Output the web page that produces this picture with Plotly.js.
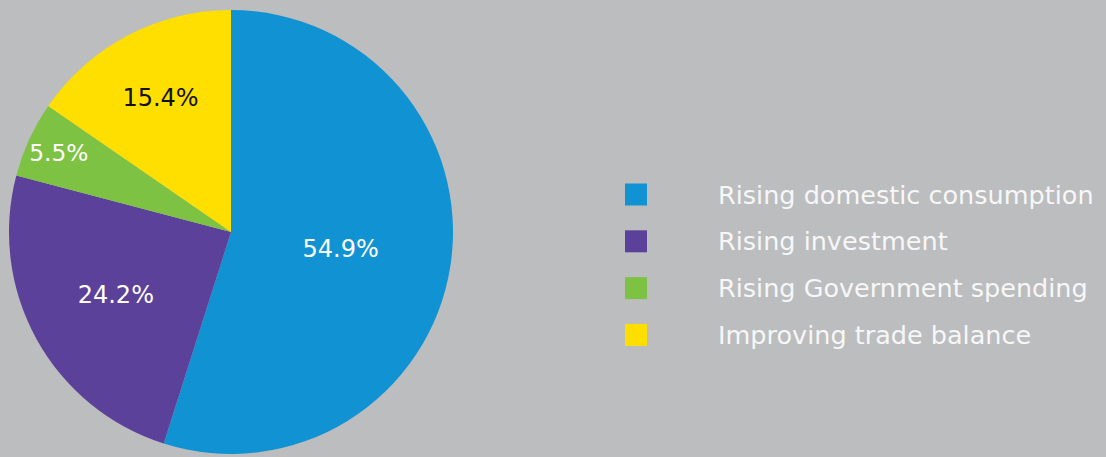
<!DOCTYPE html>
<html>
<head>
<meta charset="utf-8">
<script src="https://cdn.plot.ly/plotly-3.0.1.min.js"></script>
<style>html,body{margin:0;padding:0;background:#bcbdbf;}#chart{width:1106px;height:457px;}</style>
</head>
<body>
<div id="chart"></div>
<script>
const labels = ["Rising domestic consumption", "Rising investment", "Rising Government spending", "Improving trade balance"];
const values = [54.9, 24.2, 5.5, 15.4];
const colors = ["#1193d3", "#5b4199", "#7dc243", "#ffdf00"];
const textColors = ["#ffffff", "#ffffff", "#ffffff", "#111111"];

const W = 1106, H = 457;
const FONT = "'DejaVu Sans', sans-serif";

const trace = {
  type: "pie",
  labels: labels,
  values: values,
  marker: {colors: colors, line: {width: 0}},
  sort: false,
  direction: "clockwise",
  rotation: 0,
  texttemplate: "%{value:.1f}%",
  textinfo: "text",
  textposition: "inside",
  insidetextorientation: "horizontal",
  insidetextfont: {family: FONT, size: 24, color: textColors},
  hoverinfo: "label+value",
  showlegend: false,
  domain: {x: [9 / W, 453 / W], y: [1 - 454 / H, 1 - 10 / H]}
};

const shapes = [], annotations = [];
const rowY0 = 194.5, rowStep = 46.8;
labels.forEach((lab, i) => {
  const cy = rowY0 + i * rowStep;
  shapes.push({
    type: "rect", xref: "paper", yref: "paper",
    x0: 625 / W, x1: 647 / W,
    y0: 1 - (cy + 11) / H, y1: 1 - (cy - 11) / H,
    fillcolor: colors[i], line: {width: 0}
  });
  annotations.push({
    xref: "paper", yref: "paper",
    x: 716 / W, y: 1 - cy / H,
    xanchor: "left", yanchor: "middle",
    text: lab, showarrow: false,
    font: {family: FONT, size: 25.5, color: "#f7f7f7"}
  });
});

const layout = {
  width: W, height: H,
  margin: {l: 0, r: 0, t: 0, b: 0},
  paper_bgcolor: "#bcbdbf",
  plot_bgcolor: "#bcbdbf",
  showlegend: false,
  shapes: shapes,
  annotations: annotations
};

Plotly.newPlot("chart", [trace], layout, {displayModeBar: false, staticPlot: true});
</script>
</body>
</html>
